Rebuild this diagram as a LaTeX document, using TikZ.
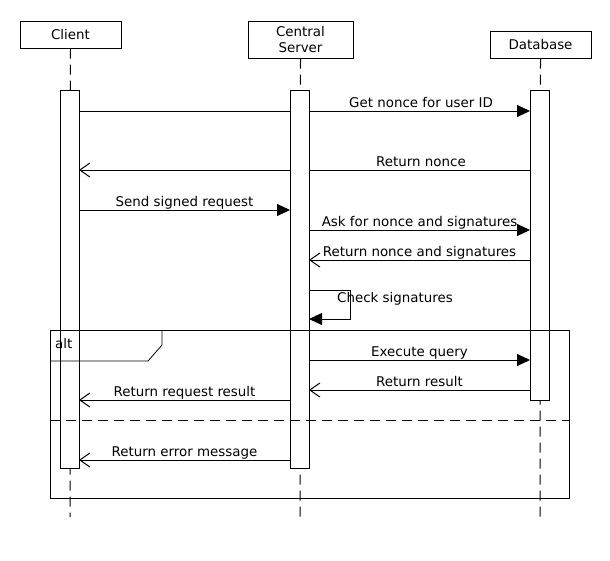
\documentclass[tikz,border=0pt]{standalone}
\usepackage{fontspec}
\setmainfont{DejaVu Sans}
\usetikzlibrary{arrows.meta}
\begin{document}
\begin{tikzpicture}[x=1pt,y=-1pt,
  font=\fontsize{13.4}{15.5}\selectfont,
  actor/.style={draw,fill=white,line width=1pt,inner sep=0pt,align=center},
  bar/.style={draw,fill=white,line width=1pt,inner sep=0pt,minimum width=19pt},
  life/.style={line width=1pt,dash pattern=on 10pt off 6pt},
  msg/.style={line width=1pt,-{Triangle[length=13pt,width=12pt]}},
  ret/.style={line width=1pt,-{Straight Barb[length=10pt,width=14pt,line width=1pt]}},
  lbl/.style={inner sep=0pt,anchor=base,yshift=4pt}]
\useasboundingbox (0,0) rectangle (610,560);
% actors
\node[actor,minimum width=101pt,minimum height=27pt] (client) at (70.5,34.5) {Client};
\node[actor,minimum width=105pt,minimum height=37pt] (server) at (300.5,39.5) {Central\\Server};
\node[actor,minimum width=101pt,minimum height=27pt] (db) at (540.5,44.5) {Database};
% lifeline ends
\coordinate (cend) at (70,517);
\coordinate (send) at (300,518);
\coordinate (dend) at (540,520);
\draw[life] (client.south) -- (cend);
\draw[life] (server.south) -- (send);
\draw[life] (db.south) -- (dend);
% endpoints
\coordinate (m1a) at (79,111); \coordinate (m1b) at (530,111);
\coordinate (m2a) at (530,170); \coordinate (m2b) at (79,170);
% long messages (under server bar)
\draw[msg] (m1a) -- (m1b);
\draw[ret] (m2a) -- (m2b);
% activation bars
\node[bar,minimum height=378pt] (cbar) at (69.5,279) {};
\node[bar,minimum height=378pt] (sbar) at (299.5,279) {};
\node[bar,minimum height=310pt] (dbar) at (539.5,245) {};
% labels for long messages
\node[lbl] (l1) at (421,111) {Get nonce for user ID};
\node[lbl] (l2) at (421,170) {Return nonce};
% other messages
\coordinate (m3a) at (79,210); \coordinate (m3b) at (290,210);
\draw[msg] (m3a) -- (m3b) node[lbl,midway] (l3) {Send signed request};
\coordinate (m4a) at (309,230); \coordinate (m4b) at (530,230);
\draw[msg] (m4a) -- (m4b) node[lbl,midway] (l4) {Ask for nonce and signatures};
\coordinate (m5a) at (530,260); \coordinate (m5b) at (309,260);
\draw[ret] (m5a) -- (m5b) node[lbl,midway] (l5) {Return nonce and signatures};
% self message
\coordinate (s1) at (309,290); \coordinate (s2) at (309,319);
\draw[msg] (s1) -- (350,290) -- (350,319) -- (s2);
\node[anchor=base west,inner sep=0pt] (l6) at (337,302) {Check signatures};
% alt messages
\coordinate (m7a) at (309,360); \coordinate (m7b) at (530,360);
\draw[msg] (m7a) -- (m7b) node[lbl,midway] (l7) {Execute query};
\coordinate (m8a) at (530,390); \coordinate (m8b) at (309,390);
\draw[ret] (m8a) -- (m8b) node[lbl,midway] (l8) {Return result};
\coordinate (m9a) at (290,400); \coordinate (m9b) at (79,400);
\draw[ret] (m9a) -- (m9b) node[lbl,midway] (l9) {Return request result};
\coordinate (m10a) at (290,460); \coordinate (m10b) at (79,460);
\draw[ret] (m10a) -- (m10b) node[lbl,midway] (l10) {Return error message};
% alt frame
\draw[line width=1pt] (50,330) rectangle (569,498);
\draw[line width=0.8pt] (50,361) -- (148,361) -- (162,345) -- (162,330);
\node[anchor=base west,inner sep=0pt] (alt) at (55,348) {alt};
\draw[line width=1pt,dash pattern=on 10pt off 6pt] (50,420) -- (569,420);
\end{tikzpicture}
\end{document}
